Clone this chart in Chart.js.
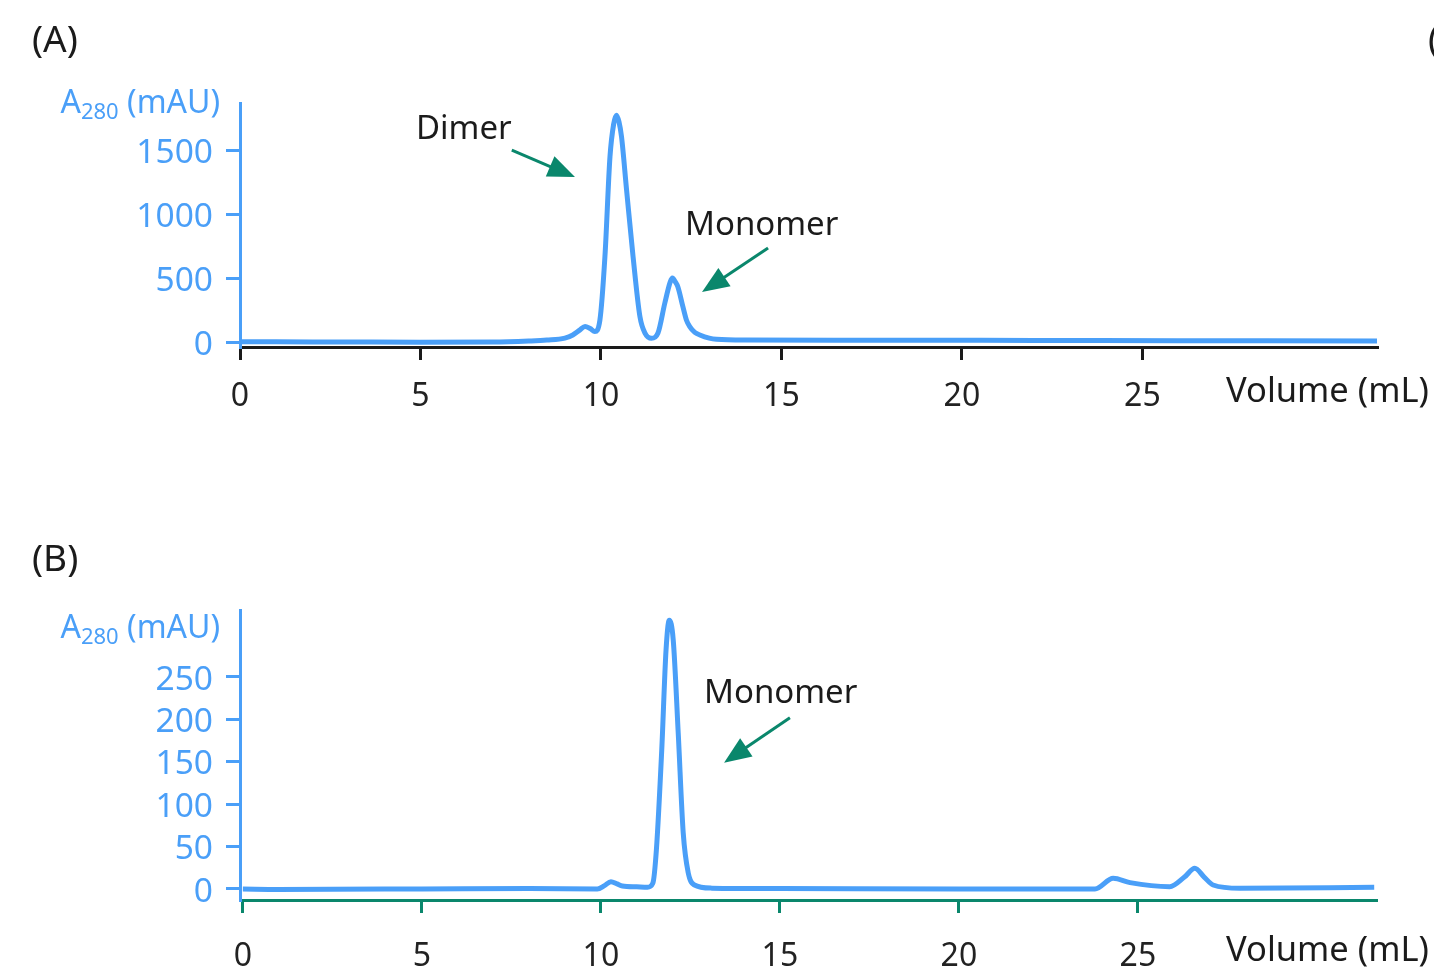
<!DOCTYPE html>
<html><head><meta charset="utf-8">
<script src="https://cdn.jsdelivr.net/npm/chart.js@4.4.1/dist/chart.umd.min.js"></script>
<style>
html,body{margin:0;padding:0;background:#fff;overflow:hidden;}
#wrap{position:relative;width:1434px;height:970px;overflow:hidden;font-family:'Noto Sans',sans-serif;}
.box{position:absolute;left:0;width:1434px;}
.t{position:absolute;white-space:nowrap;line-height:1;color:#1b1b1b;}
</style></head><body>
<div id="wrap">
  <div class="box" style="top:0;height:450px"><canvas id="cA" width="1434" height="450"></canvas></div>
  <div class="box" style="top:460px;height:510px"><canvas id="cB" width="1434" height="510"></canvas></div>
</div>
<script>
// ---------- data ----------
const xTicks = [0, 5, 10, 15, 20, 25];
const yTicksA = [0, 500, 1000, 1500];
const yTicksB = [0, 50, 100, 150, 200, 250];

// Panel A: elution volume (mL) and absorbance (mAU)
const volA = [0, 1, 3, 5, 7, 8, 8.5, 9, 9.22, 9.42, 9.56, 9.7, 9.83, 9.97, 10.11, 10.25, 10.35, 10.43, 10.5, 10.57, 10.71, 10.89, 11.08, 11.22, 11.4, 11.58, 11.77, 11.92, 11.98, 12.06, 12.13, 12.27, 12.37, 12.46, 12.6, 12.74, 13.0, 13.2, 14, 18, 22, 26, 31.5];
const absA = [3, 2, 0, -2, 0, 8, 15, 30, 55, 95, 122, 105, 82, 170, 667, 1448, 1700, 1773, 1720, 1604, 1188, 667, 198, 70, 29, 70, 305, 470, 500, 470, 432, 276, 170, 120, 75, 55, 30, 21, 15, 14, 12, 10, 8];

// Panel B
const volB = [0, 1, 5, 8, 9.9, 10.1, 10.28, 10.45, 10.6, 11.0, 11.3, 11.45, 11.55, 11.7, 11.82, 11.91, 12.02, 12.16, 12.3, 12.44, 12.6, 13.1, 15, 20, 22.5, 23.8, 24.31, 24.78, 25.89, 26.3, 26.59, 26.85, 27.1, 27.85, 31.6];
const absB = [0, -0.5, 0, 0.5, 0, 4, 8.6, 6, 3.5, 2.5, 2, 6.7, 46, 164, 282, 317, 294, 184, 66, 19, 5, 1, 0.5, 0, 0, 0, 12.6, 7.5, 2.7, 14, 24.4, 14, 4.7, 0.8, 2];

// annotation arrows, in data coordinates (tail -> tip)
const arrowsA = [
  {from: [7.53, 1500], to: [9.28, 1289]},
  {from: [14.63, 734], to: [12.8, 390]}
];
const arrowsB = [
  {from: [15.28, 202], to: [13.44, 149]}
];

// ---------- styles ----------
const BLUE = '#4a9ff8';
const GREEN = '#0a876c';
const FONT = "'Noto Sans', sans-serif";

const arrowPlugin = {
  id: 'arrows',
  afterDatasetsDraw(chart, args, opts) {
    const ctx = chart.ctx, xs = chart.scales.x, ys = chart.scales.y;
    ctx.save();
    ctx.strokeStyle = GREEN; ctx.fillStyle = GREEN; ctx.lineWidth = 3;
    for (const a of opts.list || []) {
      const x1 = xs.getPixelForValue(a.from[0]), y1 = ys.getPixelForValue(a.from[1]);
      const x2 = xs.getPixelForValue(a.to[0]), y2 = ys.getPixelForValue(a.to[1]);
      const ang = Math.atan2(y2 - y1, x2 - x1);
      const L = 27, W = 11;
      const bx = x2 - L * Math.cos(ang), by = y2 - L * Math.sin(ang);
      ctx.beginPath(); ctx.moveTo(x1, y1); ctx.lineTo(bx + 2*Math.cos(ang), by + 2*Math.sin(ang)); ctx.stroke();
      ctx.beginPath();
      ctx.moveTo(x2, y2);
      ctx.lineTo(bx + W * Math.sin(ang), by - W * Math.cos(ang));
      ctx.lineTo(bx - W * Math.sin(ang), by + W * Math.cos(ang));
      ctx.closePath(); ctx.fill();
    }
    ctx.restore();
  }
};

function makeChart(id, xs, ys, c) {
  const pts = xs.map((x, i) => ({x: x, y: ys[i]}));
  return new Chart(document.getElementById(id), {
    type: 'line',
    data: {datasets: [{data: pts, borderColor: BLUE, borderWidth: 5, pointRadius: 0,
      cubicInterpolationMode: 'monotone', fill: false}]},
    options: {
      responsive: false, animation: false, devicePixelRatio: 1,
      layout: {padding: {top: c.top, right: c.right, left: 0, bottom: 0}},
      plugins: {legend: {display: false}, tooltip: {enabled: false}, arrows: {list: c.arrows}},
      scales: {
        x: {
          type: 'linear', min: c.xmin, max: c.xmax,
          afterBuildTicks: s => { s.ticks = xTicks.map(v => ({value: v})); },
          afterFit: s => { s.height = c.xh; },
          border: {display: true, color: c.xcolor, width: 3},
          grid: {drawOnChartArea: false, drawTicks: true, tickLength: 13, color: c.xcolor, lineWidth: 3},
          ticks: {color: '#222', font: {family: FONT, size: 32}, padding: c.xpad, maxRotation: 0,
            autoSkip: false, callback: v => String(v)}
        },
        y: {
          type: 'linear', min: c.ymin, max: c.ymax,
          afterBuildTicks: s => { s.ticks = c.yticks.map(v => ({value: v})); },
          afterFit: s => { s.width = 240; },
          border: {display: true, color: BLUE, width: 3},
          grid: {drawOnChartArea: false, drawTicks: true, tickLength: 14, color: BLUE, lineWidth: 3},
          ticks: {color: BLUE, font: {family: FONT, size: 33.5}, padding: 13, autoSkip: false,
            labelOffset: 3, callback: v => String(v)}
        }
      }
    },
    plugins: [arrowPlugin]
  });
}

makeChart('cA', volA, absA, {top: 103, right: 57, xh: 103, xmin: 0, xmax: 31.5, ymin: -39, ymax: 1868,
  yticks: yTicksA, xcolor: '#1a1a1a', xpad: 18, arrows: arrowsA});
makeChart('cB', volB, absB, {top: 150, right: 58, xh: 70, xmin: -0.08, xmax: 31.65, ymin: -13, ymax: 329,
  yticks: yTicksB, xcolor: GREEN, xpad: 25, arrows: arrowsB});

// ---------- text labels ----------
const wrap = document.getElementById('wrap');
function label(html, x, baseline, size, color, align) {
  const d = document.createElement('div');
  d.className = 't';
  d.innerHTML = html;
  d.style.fontSize = size + 'px';
  d.style.top = (baseline - 0.888 * size) + 'px';
  d.style.left = x + 'px';
  if (color) d.style.color = color;
  if (align === 'right') d.style.transform = 'translateX(-100%)';
  wrap.appendChild(d);
}
const yTitle = 'A<span style="font-size:22px;position:relative;top:6px">280</span> (mAU)';
label('(A)', 32, 52, 37);
label('(', 1428, 52, 37);
label('(B)', 32, 571, 37);
label(yTitle, 220, 113, 32, BLUE, 'right');
label(yTitle, 220, 638, 32, BLUE, 'right');
label('Dimer', 416, 139, 33);
label('Monomer', 685, 235, 33);
label('Monomer', 704, 703, 33);
label('Volume (mL)', 1226, 403, 34.5);
label('Volume (mL)', 1226, 961.5, 34.5);
</script>
</body></html>
